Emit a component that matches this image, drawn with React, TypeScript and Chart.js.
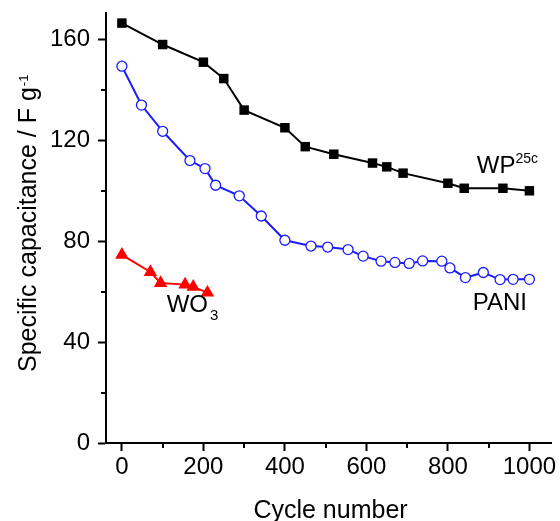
import React, { useEffect, useRef } from "react";
import { Chart, registerables } from "chart.js";

Chart.register(...registerables);

// ---- data ----
const wpCycles = [0, 100, 200, 250, 300, 400, 450, 520, 615, 650, 690, 800, 840, 935, 1000];
const wpCap = [166.5, 158, 151, 144.5, 132, 125, 117.5, 114.5, 111, 109.5, 107, 103, 101, 101, 100];

const paniCycles = [0, 48, 100, 167, 204, 230, 288, 342, 400, 464, 505, 555, 592, 636, 670, 705, 738, 785, 805, 843, 887, 928, 960, 1000];
const paniCap = [149.4, 134, 123.6, 112, 108.8, 102.2, 98, 90, 80.4, 78.1, 77.7, 76.7, 74.1, 72.1, 71.6, 71.2, 72.2, 72.1, 69.4, 65.6, 67.6, 64.8, 64.9, 64.9];

const wo3Cycles = [0, 70, 95, 155, 175, 210];
const wo3Cap = [74.6, 67.8, 63.4, 62.8, 61.9, 59.6];

const xTicks = [0, 200, 400, 600, 800, 1000];
const xMinorTicks = [100, 300, 500, 700, 900];
const yTicks = [0, 40, 80, 120, 160];
const yMinorTicks = [20, 60, 100, 140];

const xTitle = "Cycle number";
const yTitle = "Specific capacitance / F g";
const yTitleSup = "-1";

// series labels placed in data coordinates
const seriesLabels = [
  { text: "WP", sup: "25c", sub: "", x: 871, y: 107 },
  { text: "PANI", sup: "", sub: "", x: 861, y: 52.7 },
  { text: "WO", sup: "", sub: "3", x: 110, y: 51.9 },
];

const FONT = '"Liberation Sans", Arial, Helvetica, sans-serif';

const toXY = (xs: number[], ys: number[]) => xs.map((x, i) => ({ x, y: ys[i] }));

const decorPlugin = {
  id: "decor",
  afterDraw(chart: any) {
    const { ctx, chartArea } = chart;
    const xs = chart.scales.x;
    const ys = chart.scales.y;
    ctx.save();
    // minor ticks
    ctx.strokeStyle = "#000";
    ctx.lineWidth = 2;
    ctx.beginPath();
    for (const v of xMinorTicks) {
      const px = Math.round(xs.getPixelForValue(v));
      ctx.moveTo(px, chartArea.bottom);
      ctx.lineTo(px, chartArea.bottom + 5);
    }
    for (const v of yMinorTicks) {
      const py = Math.round(ys.getPixelForValue(v));
      ctx.moveTo(chartArea.left - 5, py);
      ctx.lineTo(chartArea.left, py);
    }
    ctx.stroke();

    ctx.fillStyle = "#000";
    ctx.textAlign = "left";
    ctx.textBaseline = "alphabetic";

    // x title
    ctx.font = `25px ${FONT}`;
    ctx.textAlign = "center";
    ctx.fillText(xTitle, (chartArea.left + chartArea.right) / 2 + 2, 518);

    // y title (rotated)
    ctx.save();
    ctx.translate(36, 372);
    ctx.rotate(-Math.PI / 2);
    ctx.textAlign = "left";
    ctx.font = `25px ${FONT}`;
    ctx.fillText(yTitle, 0, 0);
    const w = ctx.measureText(yTitle).width;
    ctx.font = `13px ${FONT}`;
    ctx.fillText(yTitleSup, w + 1, -8);
    ctx.restore();

    // series labels
    ctx.textAlign = "left";
    for (const l of seriesLabels) {
      const px = xs.getPixelForValue(l.x);
      const py = ys.getPixelForValue(l.y);
      ctx.font = `24px ${FONT}`;
      ctx.fillText(l.text, px, py);
      const tw = ctx.measureText(l.text).width;
      if (l.sup) {
        ctx.font = `14px ${FONT}`;
        ctx.fillText(l.sup, px + tw, py - 10);
      }
      if (l.sub) {
        ctx.font = `15px ${FONT}`;
        ctx.fillText(l.sub, px + tw + 2, py + 8);
      }
    }
    ctx.restore();
  },
};

export default function App() {
  const ref = useRef<HTMLCanvasElement | null>(null);

  useEffect(() => {
    if (!ref.current) return;
    const axisCommon = {
      type: "linear" as const,
      border: { display: true, color: "#000", width: 2 },
      grid: {
        display: true,
        drawOnChartArea: false,
        drawTicks: true,
        tickLength: 8,
        tickWidth: 2,
        tickColor: "#000",
        color: "#000",
      },
    };
    const chart = new Chart(ref.current, {
      type: "line",
      data: {
        datasets: [
          {
            label: "WO3",
            data: toXY(wo3Cycles, wo3Cap),
            borderColor: "#ff0000",
            backgroundColor: "#ff0000",
            borderWidth: 2,
            pointStyle: "triangle",
            pointRadius: 7.8,
            pointBorderWidth: 0,
            tension: 0,
          },
          {
            label: "PANI",
            data: toXY(paniCycles, paniCap),
            borderColor: "#1c1cff",
            backgroundColor: "#ffffff",
            pointBorderColor: "#1c1cff",
            borderWidth: 2,
            pointStyle: "circle",
            pointRadius: 5,
            pointBorderWidth: 1.3,
            tension: 0,
          },
          {
            label: "WP25c",
            data: toXY(wpCycles, wpCap),
            borderColor: "#000000",
            backgroundColor: "#000000",
            borderWidth: 2,
            pointStyle: "rect",
            pointRadius: 6.7,
            pointBorderWidth: 0,
            tension: 0,
          },
        ],
      },
      options: {
        animation: false,
        responsive: false,
        maintainAspectRatio: false,
        devicePixelRatio: 1,
        layout: { padding: { left: 0, right: 9, top: 13, bottom: 0 } },
        plugins: {
          legend: { display: false },
          tooltip: { enabled: false },
        },
        events: [],
        scales: {
          x: {
            ...axisCommon,
            min: -39,
            max: 1053,
            afterBuildTicks: (s: any) => {
              s.ticks = xTicks.map((v) => ({ value: v }));
            },
            afterFit: (s: any) => {
              s.height = 78;
              s.paddingLeft = 0;
              s.paddingRight = 0;
            },
            ticks: {
              autoSkip: false,
              maxRotation: 0,
              padding: 2,
              color: "#000",
              font: { family: FONT, size: 24 },
              callback: (v: any) => String(v),
            },
          },
          y: {
            ...axisCommon,
            min: 0,
            max: 170.5,
            afterBuildTicks: (s: any) => {
              s.ticks = yTicks.map((v) => ({ value: v }));
            },
            afterFit: (s: any) => {
              s.width = 106;
              s.paddingTop = 0;
              s.paddingBottom = 0;
            },
            ticks: {
              autoSkip: false,
              padding: 8,
              color: "#000",
              font: { family: FONT, size: 24 },
              callback: (v: any) => String(v),
            },
          },
        },
      },
      plugins: [decorPlugin],
    } as any);
    return () => chart.destroy();
  }, []);

  return (
    <div style={{ position: "fixed", left: 0, top: 0, width: 560, height: 521, background: "#fff" }}>
      <canvas ref={ref} width={560} height={521} style={{ display: "block" }} />
    </div>
  );
}
